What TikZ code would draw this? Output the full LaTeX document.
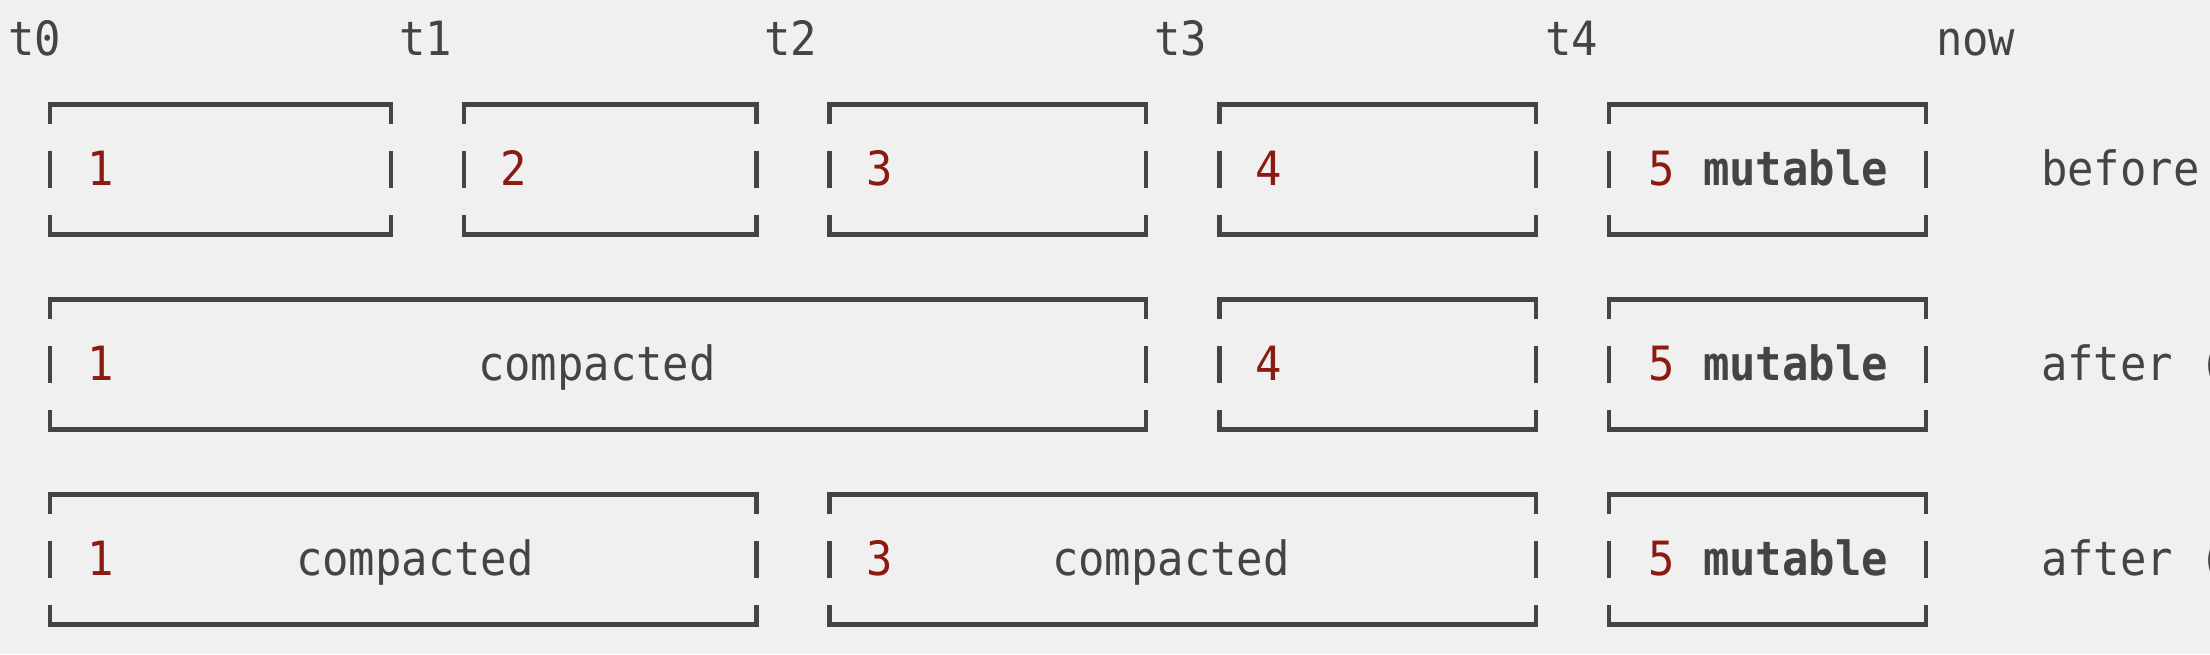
\documentclass[tikz,border=0pt]{standalone}
\usepackage{fontspec}
\newfontfamily\reffont[FakeStretch=0.93]{DejaVu Sans Mono}
\definecolor{ink}{HTML}{444444}
\definecolor{numred}{HTML}{8B1A11}
\definecolor{bg}{HTML}{F0F0F0}
\newcommand\mkbox[3]{%
  \pgfmathsetmacro\xl{13.5+(#1+0.5)*24.36}%
  \pgfmathsetmacro\xr{13.5+(#2+0.5)*24.36}%
  \pgfmathsetmacro\ya{#3}%
  \pgfmathsetmacro\yb{#3+19.5}%
  \pgfmathsetmacro\yc{#3+65-18.7}%
  \pgfmathsetmacro\yd{#3+65+18.7}%
  \pgfmathsetmacro\ye{#3+130-19.5}%
  \pgfmathsetmacro\yf{#3+130}%
  \draw[frame] (\xl,\yb) -- (\xl,\ya) -- (\xr,\ya) -- (\xr,\yb);
  \draw[frame] (\xl,\yc) -- (\xl,\yd);
  \draw[frame] (\xr,\yc) -- (\xr,\yd);
  \draw[frame] (\xl,\ye) -- (\xl,\yf) -- (\xr,\yf) -- (\xr,\ye);
}
\begin{document}
\begin{tikzpicture}[x=0.5pt,y=-0.5pt,
  txt/.style={font=\reffont\fontsize{23.6}{28}\selectfont, text=ink, anchor=base west, inner sep=0pt, outer sep=0pt},
  num/.style={txt, text=numred},
  boldtxt/.style={txt, font=\reffont\bfseries\fontsize{23.6}{28}\selectfont},
  frame/.style={draw=ink, line width=2.2pt, miter limit=10}]
\fill[bg] (0,0) rectangle (2210,654);
\useasboundingbox (0,0) rectangle (2210,654);
% time labels
\node[txt] (t0) at (8.5,55) {t0};
\node[txt] (t1) at (399,55) {t1};
\node[txt] (t2) at (764,55) {t2};
\node[txt] (t3) at (1154,55) {t3};
\node[txt] (t4) at (1545,55) {t4};
\node[txt] (tnow) at (1936,55) {now};
% row 1
\mkbox{1}{15}{104.5}
\mkbox{18}{30}{104.5}
\mkbox{33}{46}{104.5}
\mkbox{49}{62}{104.5}
\mkbox{65}{78}{104.5}
\node[num] (r1a) at (87,185.5) {1};
\node[num] (r1b) at (500.7,185.5) {2};
\node[num] (r1c) at (866.1,185.5) {3};
\node[num] (r1d) at (1255.9,185.5) {4};
\node[num] (r1e) at (1648,185.5) {5};
\node[boldtxt] (r1m) at (1703,185.5) {mutable};
\node[txt] (r1l) at (2041,185.5) {before};
% row 2
\mkbox{1}{46}{299.5}
\mkbox{49}{62}{299.5}
\mkbox{65}{78}{299.5}
\node[num] (r2a) at (87,380.5) {1};
\node[txt] (r2c) at (478,380.5) {compacted};
\node[num] (r2d) at (1255.9,380.5) {4};
\node[num] (r2e) at (1648,380.5) {5};
\node[boldtxt] (r2m) at (1703,380.5) {mutable};
\node[txt] (r2l) at (2041,380.5) {after (};
% row 3
\mkbox{1}{30}{494.5}
\mkbox{33}{62}{494.5}
\mkbox{65}{78}{494.5}
\node[num] (r3a) at (87,575.5) {1};
\node[txt] (r3c) at (296,575.5) {compacted};
\node[num] (r3b) at (866.1,575.5) {3};
\node[txt] (r3d) at (1052,575.5) {compacted};
\node[num] (r3e) at (1648,575.5) {5};
\node[boldtxt] (r3m) at (1703,575.5) {mutable};
\node[txt] (r3l) at (2041,575.5) {after (};
\end{tikzpicture}
\end{document}
